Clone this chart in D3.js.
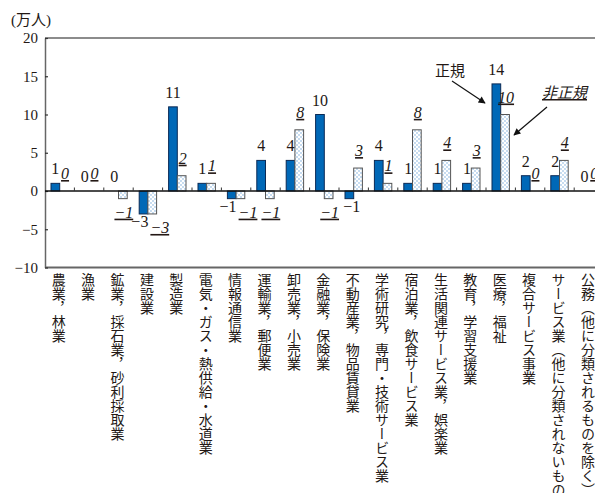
<!DOCTYPE html>
<html lang="ja">
<head>
<meta charset="utf-8">
<script src="https://cdn.jsdelivr.net/npm/d3@7"></script>
<style>
  html, body { margin: 0; padding: 0; background: #fff; }
  svg { display: block; }
</style>
</head>
<body>
<svg id="chart" width="595" height="493"></svg>
<script>
// Industries (vertical labels along the x axis)
const categories = [
  "農業，林業",
  "漁業",
  "鉱業，採石業，砂利採取業",
  "建設業",
  "製造業",
  "電気・ガス・熱供給・水道業",
  "情報通信業",
  "運輸業，郵便業",
  "卸売業，小売業",
  "金融業，保険業",
  "不動産業，物品賃貸業",
  "学術研究，専門・技術サービス業",
  "宿泊業，飲食サービス業",
  "生活関連サービス業，娯楽業",
  "教育，学習支援業",
  "医療，福祉",
  "複合サービス事業",
  "サービス業（他に分類されないもの）",
  "公務（他に分類されるものを除く）"
];

// Change in employees (万人): regular / non-regular
const regularValues    = [1, 0, 0, -3, 11, 1, -1, 4, 4, 10, -1, 4, 1, 1, 1, 14, 2, 2, 0];
const nonRegularValues = [0, 0, -1, -3, 2, 1, -1, -1, 8, -1, 3, 1, 8, 4, 3, 10, 0, 4, 0];

const yTicks = [-10, -5, 0, 5, 10, 15, 20];
const unitLabel = "(万人)";
const seriesNames = ["正規", "非正規"];

(function draw() {
  const svg = d3.select("#chart");
  const serif = "'Liberation Serif', 'DejaVu Serif', 'Noto Sans CJK JP', serif";
  const cjk = "'Noto Sans CJK JP', sans-serif";
  const textColor = "#231815";

  const plotLeft = 45, plotTop = 38, plotBottom = 267.5;
  const bandW = 29.4;
  const plotRight = plotLeft + bandW * categories.length;
  const barW = 8.7;

  const x = d3.scaleBand().domain(categories).range([plotLeft, plotRight]).padding(0);
  const y = d3.scaleLinear().domain([-10, 20]).range([plotBottom, plotTop]);

  // Dot pattern for the non-regular bars
  const defs = svg.append("defs");
  const pat = defs.append("pattern")
    .attr("id", "dots").attr("patternUnits", "userSpaceOnUse")
    .attr("width", 4).attr("height", 4);
  pat.append("rect").attr("width", 4).attr("height", 4).attr("fill", "#fff");
  pat.append("circle").attr("cx", 1).attr("cy", 1).attr("r", 0.65).attr("fill", "#5e9bd6");
  pat.append("circle").attr("cx", 3).attr("cy", 3).attr("r", 0.65).attr("fill", "#5e9bd6");

  const marker = defs.append("marker")
    .attr("id", "arrow").attr("viewBox", "0 0 10 10")
    .attr("refX", 9).attr("refY", 5)
    .attr("markerWidth", 9).attr("markerHeight", 7)
    .attr("markerUnits", "userSpaceOnUse")
    .attr("orient", "auto");
  marker.append("path").attr("d", "M0,0 L10,5 L0,10 Z").attr("fill", "#111");

  // Frame: top and bottom borders
  svg.append("line").attr("x1", plotLeft).attr("x2", plotRight).attr("y1", plotTop).attr("y2", plotTop)
    .attr("stroke", "#666").attr("stroke-width", 1.5);
  svg.append("line").attr("x1", plotLeft).attr("x2", plotRight).attr("y1", plotBottom).attr("y2", plotBottom)
    .attr("stroke", "#666").attr("stroke-width", 1.8);

  // Y axis with inward ticks
  const yAxis = d3.axisLeft(y).tickValues(yTicks).tickSizeInner(-3).tickSizeOuter(0).tickPadding(7);
  const gy = svg.append("g").attr("transform", `translate(${plotLeft},0)`).call(yAxis);
  gy.select(".domain").attr("stroke", "#666").attr("stroke-width", 1.5);
  gy.selectAll(".tick line").attr("stroke", "#333").attr("stroke-width", 1.2);
  gy.selectAll(".tick text")
    .attr("font-family", serif).attr("font-size", 15).attr("fill", textColor);

  // Unit label
  svg.append("text").attr("x", 11).attr("y", 25)
    .attr("font-family", serif).attr("font-size", 15).attr("fill", textColor)
    .text(unitLabel);

  // Bars
  const g = svg.append("g");
  const regBars = categories.map((c, i) => ({ c, i, v: regularValues[i] }));
  const nonBars = categories.map((c, i) => ({ c, i, v: nonRegularValues[i] }));
  const cx = c => x(c) + x.bandwidth() / 2;

  g.selectAll("rect.reg").data(regBars).join("rect").attr("class", "reg")
    .attr("x", d => cx(d.c) - barW)
    .attr("width", barW)
    .attr("y", d => y(Math.max(0, d.v)))
    .attr("height", d => Math.abs(y(d.v) - y(0)))
    .attr("fill", "#0068b7").attr("stroke", "#0b2a55").attr("stroke-width", 1);

  g.selectAll("rect.non").data(nonBars).join("rect").attr("class", "non")
    .attr("x", d => cx(d.c))
    .attr("width", barW)
    .attr("y", d => y(Math.max(0, d.v)))
    .attr("height", d => Math.abs(y(d.v) - y(0)))
    .attr("fill", "url(#dots)").attr("stroke", "#555").attr("stroke-width", 1);

  // Zero line with small category ticks
  svg.append("line").attr("x1", plotLeft).attr("x2", plotRight).attr("y1", y(0)).attr("y2", y(0))
    .attr("stroke", "#111").attr("stroke-width", 1.4);
  svg.append("g").selectAll("line").data(categories.slice(1)).join("line")
    .attr("x1", d => x(d)).attr("x2", d => x(d))
    .attr("y1", y(0)).attr("y2", y(0) - 3.5)
    .attr("stroke", "#333").attr("stroke-width", 1);

  // Value labels: regular upright, non-regular italic underlined.
  // Negative labels sit under the bars; when both bars of a category are
  // negative the two labels are set side by side.
  const fmt = d3.format("d");
  const bothNeg = i => regularValues[i] < 0 && nonRegularValues[i] < 0;

  g.selectAll("text.reg").data(regBars).join("text").attr("class", "reg")
    .attr("x", d => d.v >= 0 ? cx(d.c) - barW / 2
                 : bothNeg(d.i) ? cx(d.c) + 0.5 : cx(d.c) - 2)
    .attr("y", d => d.v < 0 ? y(d.v) + 13 : y(d.v) - 9)
    .attr("text-anchor", d => d.v < 0 && bothNeg(d.i) ? "end" : "middle")
    .attr("font-family", serif).attr("font-size", 16).attr("fill", textColor)
    .text(d => fmt(d.v));

  g.selectAll("text.non").data(nonBars).join("text").attr("class", "non")
    .attr("x", d => d.v < 0 && bothNeg(d.i) ? cx(d.c) + 2.5 : cx(d.c) + barW / 2 + 1)
    .attr("y", d => d.v < 0 ? y(d.v) + 19 : y(d.v) - 12)
    .attr("text-anchor", d => d.v < 0 && bothNeg(d.i) ? "start" : "middle")
    .attr("font-family", serif).attr("font-size", 16).attr("font-style", "italic")
    .attr("text-decoration", "underline").attr("fill", textColor)
    .text(d => fmt(d.v));

  // Category labels (vertical)
  svg.append("g").selectAll("text").data(categories).join("text")
    .attr("x", d => cx(d) - 1)
    .attr("y", 273)
    .attr("writing-mode", "vertical-rl")
    .attr("font-family", cjk).attr("font-size", 14).attr("fill", textColor)
    .text(d => d);

  // Series annotations with arrows
  svg.append("text").attr("x", 435).attr("y", 76)
    .attr("font-family", cjk).attr("font-size", 15).attr("fill", textColor)
    .text(seriesNames[0]);
  svg.append("line").attr("x1", 452).attr("y1", 81).attr("x2", 485).attr("y2", 103)
    .attr("stroke", "#111").attr("stroke-width", 1.2).attr("marker-end", "url(#arrow)");

  svg.append("text").attr("x", 542).attr("y", 98)
    .attr("font-family", cjk).attr("font-size", 15).attr("font-style", "italic")
    .attr("text-decoration", "underline").attr("fill", textColor)
    .text(seriesNames[1]);
  svg.append("line").attr("x1", 547).attr("y1", 107).attr("x2", 514).attr("y2", 135)
    .attr("stroke", "#111").attr("stroke-width", 1.2).attr("marker-end", "url(#arrow)");
})();
</script>
</body>
</html>
